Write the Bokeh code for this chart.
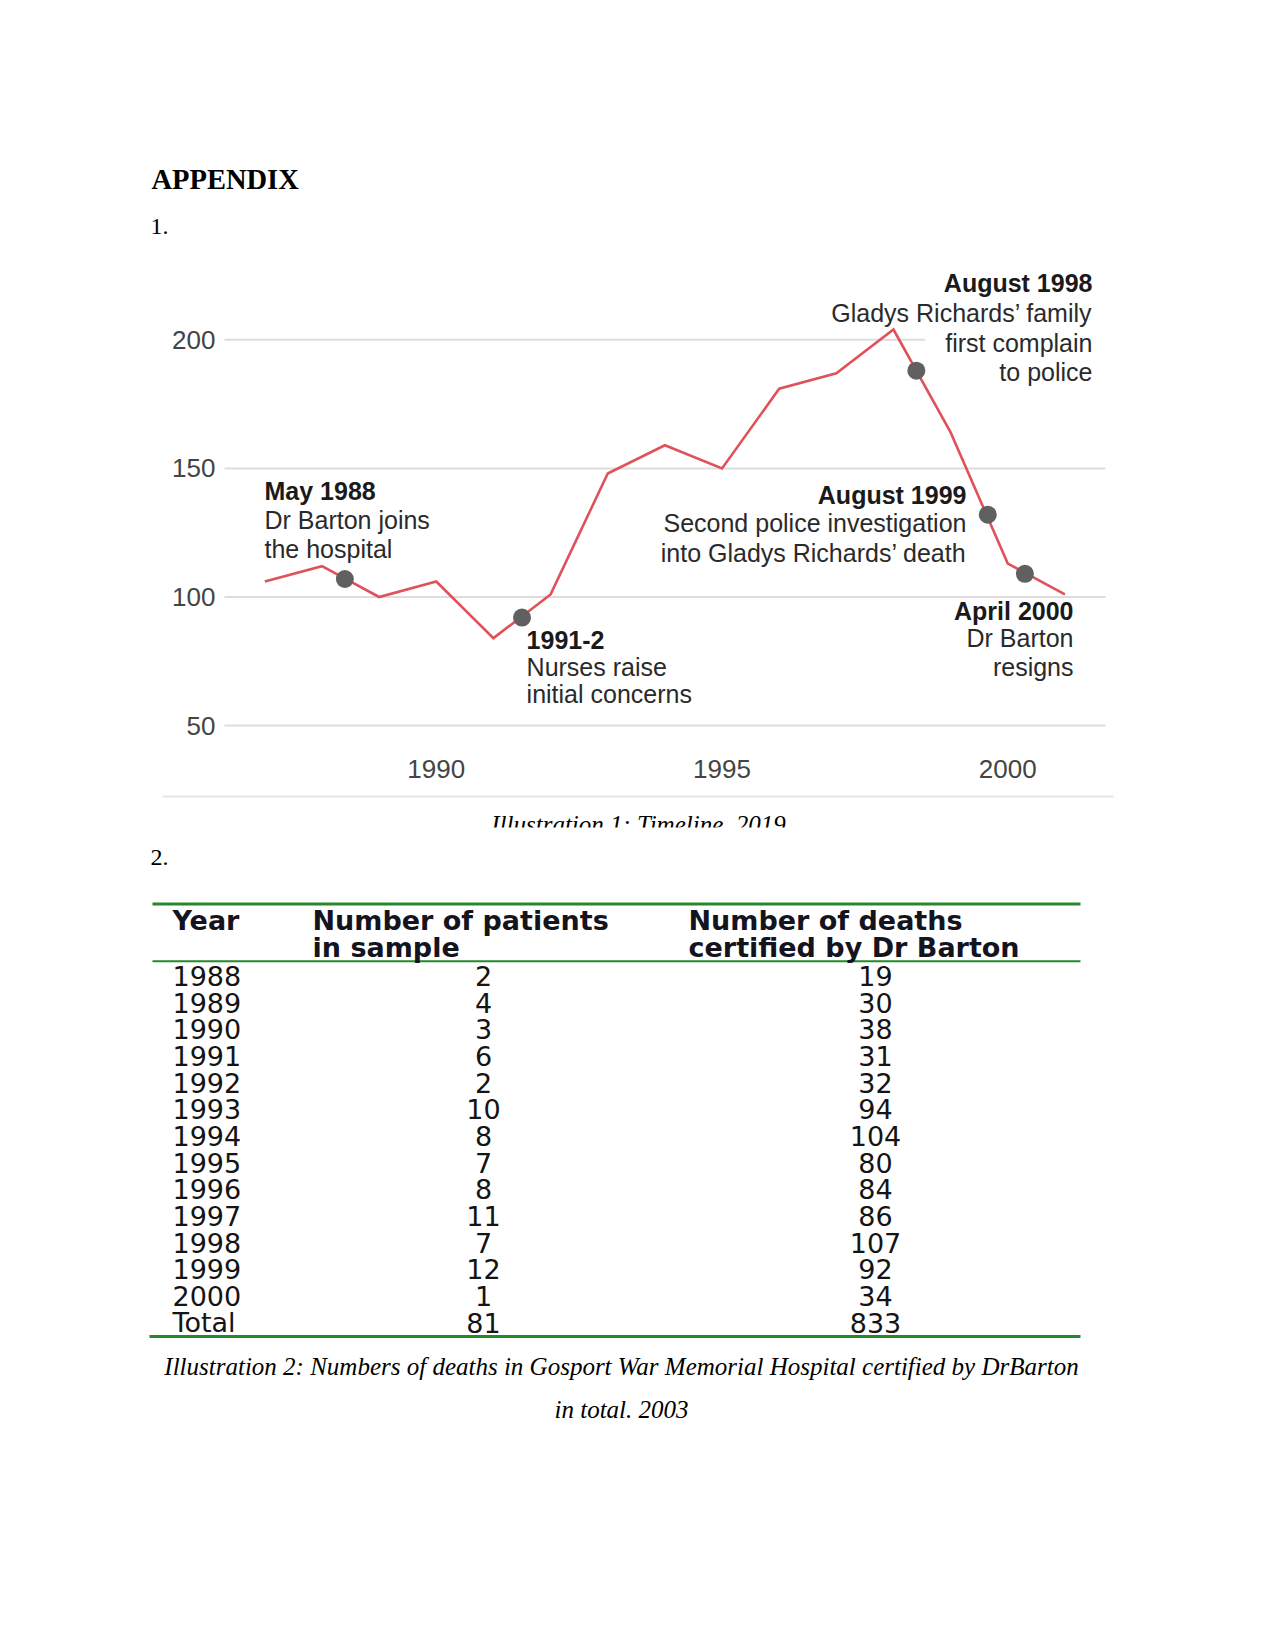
from bokeh.plotting import figure
from bokeh.models import Range1d, FixedTicker, LinearAxis, ColumnDataSource
from bokeh.core.properties import value
from bokeh.embed import file_html
from bokeh.resources import INLINE

# ---------------- data ----------------
line_years = [1987, 1988, 1989, 1990, 1991, 1992, 1993, 1994, 1995, 1996, 1997, 1998, 1999, 2000, 2001]
line_values = [106, 112, 100, 106, 84, 101, 148, 159, 150, 181, 187, 204, 164, 113, 101]

event_years = [1988.4, 1991.5, 1998.4, 1999.65, 2000.3]
event_values = [107, 92, 188, 132, 109]

y_ticks = [50, 100, 150, 200]
x_ticks = [1990, 1995, 2000]

table_header_year = "Year"
table_header_patients = ["Number of patients", "in sample"]
table_header_deaths = ["Number of deaths", "certified by Dr Barton"]
table_years = ["1988", "1989", "1990", "1991", "1992", "1993", "1994", "1995",
               "1996", "1997", "1998", "1999", "2000", "Total"]
table_patients = [2, 4, 3, 6, 2, 10, 8, 7, 8, 11, 7, 12, 1, 81]
table_deaths = [19, 30, 38, 31, 32, 94, 104, 80, 84, 86, 107, 92, 34, 833]

caption1 = "Illustration 1: Timeline, 2019"
caption2 = ["Illustration 2: Numbers of deaths in Gosport War Memorial Hospital certified by DrBarton",
            "in total. 2003"]

# annotations: (bold title, lines, x, [y per line], align)
annotations = [
    ("May 1988", ["Dr Barton joins", "the hospital"], 1986.994, [141.4, 130.1, 118.85], "left"),
    ("1991-2", ["Nurses raise", "initial concerns"], 1991.58, [83.1, 72.6, 62.1], "left"),
    ("August 1998", ["Gladys Richards\u2019 family", "first complain", "to police"], 2001.482,
     [221.9, 210.6, 198.95, 187.3], "right"),
    ("August 1999", ["Second police investigation", "into Gladys Richards\u2019 death"], 1999.277,
     [139.5, 128.6, 116.95], "right"),
    ("April 2000", ["Dr Barton", "resigns"], 2001.15, [94.75, 83.9, 72.6], "right"),
]

# chart plotting area (in data units)
chart_x0, chart_x1 = 1986.294, 2001.71
chart_ybottom = 42.26

W, H = 1259, 1500
SERIF = value("Liberation Serif")
SANS = value("Liberation Sans")
TABLE = value("DejaVu Sans")

# one page-sized figure; page layout in pixels, chart in its own ranges
p = figure(width=W, height=H, x_range=Range1d(0, W), y_range=Range1d(H, 0),
           output_backend="svg", toolbar_location=None,
           x_axis_location=None, y_axis_location=None,
           min_border=0, min_border_left=0, min_border_right=0,
           min_border_top=0, min_border_bottom=0)
p.grid.visible = False
p.outline_line_color = None
p.background_fill_color = "white"
p.border_fill_color = "white"

# chart ranges mapped over the whole page
p.extra_x_ranges = {"cx": Range1d(1982.3745, 2004.4045)}
p.extra_y_ranges = {"cy": Range1d(-251.28, 331.92)}
C = dict(x_range_name="cx", y_range_name="cy")

# ---------------- header ----------------
p.text(x=[151], y=[179], text=["APPENDIX"], text_font=SERIF, text_font_style="bold",
       text_font_size="28.5px", text_color="#000000", text_baseline="middle", text_align="left")
p.text(x=[150], y=[226], text=["1."], text_font=SERIF, text_font_size="24px",
       text_color="#000000", text_baseline="middle", text_align="left")

# ---------------- chart ----------------
# horizontal grid lines at the tick values
p.segment(x0=[chart_x0] * len(y_ticks), y0=y_ticks, x1=[chart_x1] * len(y_ticks), y1=y_ticks,
          line_color="#dddddd", line_width=2, **C)

yax = LinearAxis(ticker=FixedTicker(ticks=y_ticks), fixed_location=chart_x0, **C)
xax = LinearAxis(ticker=FixedTicker(ticks=x_ticks), fixed_location=chart_ybottom, **C)
for ax in (xax, yax):
    ax.axis_line_color = None
    ax.major_tick_line_color = None
    ax.minor_tick_line_color = None
    ax.major_tick_out = 0
    ax.major_tick_in = 0
    ax.major_label_text_font = "Liberation Sans"
    ax.major_label_text_font_size = "26px"
    ax.major_label_text_color = "#444444"
yax.major_label_standoff = 9
xax.major_label_standoff = 14
p.add_layout(yax, "left")
p.add_layout(xax, "below")

# annotation text ("first complain" has a white box that masks the grid line)
for title, lines, ax_x, ys, align in annotations:
    for j, line in enumerate(lines):
        if line == "first complain":
            p.text(x=[ax_x], y=[ys[j + 1]], text=[line], text_font=SANS, text_font_size="25px",
                   text_color="#2a2a2a", text_align=align, text_baseline="middle",
                   background_fill_color="white", padding=20, x_offset=20, **C)
for title, lines, ax_x, ys, align in annotations:
    p.text(x=[ax_x], y=[ys[0]], text=[title], text_font=SANS, text_font_style="bold",
           text_font_size="25px", text_color="#1a1a1a", text_align=align, text_baseline="middle", **C)
    others = [l for l in lines if l != "first complain"]
    oys = [ys[j + 1] for j, l in enumerate(lines) if l != "first complain"]
    p.text(x=[ax_x] * len(others), y=oys, text=others, text_font=SANS, text_font_size="25px",
           text_color="#2a2a2a", text_align=align, text_baseline="middle", **C)

src = ColumnDataSource(dict(x=line_years, y=line_values))
p.line("x", "y", source=src, line_color="#e0525a", line_width=2.6, line_join="miter", **C)
p.scatter(x=event_years, y=event_values, size=18, fill_color="#606060", line_color=None, **C)

# chart bottom rule
p.segment(x0=[162], y0=[796], x1=[1113], y1=[796], line_color="#e6e6e6", line_width=2)

# ---------------- caption 1 (cut off in the source page) ----------------
p.text(x=[638], y=[824], text=[caption1], text_font=SERIF, text_font_style="italic",
       text_font_size="25px", text_color="#000000", text_align="center",
       text_baseline="alphabetic")
p.quad(left=[300], right=[980], top=[827], bottom=[846], fill_color="white", line_color=None)

# ---------------- table ----------------
p.text(x=[150], y=[857], text=["2."], text_font=SERIF, text_font_size="24px",
       text_color="#000000", text_baseline="middle", text_align="left")

green = "#23892a"
p.segment(x0=[152], y0=[903.5], x1=[1080], y1=[903.5], line_color=green, line_width=3)
p.segment(x0=[152], y0=[960.7], x1=[1080], y1=[960.7], line_color=green, line_width=2)
p.segment(x0=[149], y0=[1336], x1=[1080], y1=[1336], line_color=green, line_width=3)

hdr_kw = dict(text_font=TABLE, text_font_style="bold", text_font_size="27px",
              text_color="#14141e", text_baseline="middle", text_align="left")
p.text(x=[172], y=[920], text=[table_header_year], **hdr_kw)
p.text(x=[312, 312], y=[920, 947], text=table_header_patients, **hdr_kw)
p.text(x=[688, 688], y=[920, 947], text=table_header_deaths, **hdr_kw)

row0, row_step = 975.5, 26.67
row_y = [row0 + i * row_step for i in range(len(table_years))]
row_kw = dict(text_font=TABLE, text_font_size="27px", text_color="#141414", text_baseline="middle")
p.text(x=[172] * len(table_years), y=row_y, text=table_years, text_align="left", **row_kw)
p.text(x=[483] * len(table_years), y=row_y, text=[str(v) for v in table_patients],
       text_align="center", **row_kw)
p.text(x=[875] * len(table_years), y=row_y, text=[str(v) for v in table_deaths],
       text_align="center", **row_kw)

p.text(x=[621, 621], y=[1366, 1409], text=caption2, text_font=SERIF, text_font_style="italic",
       text_font_size="25px", text_color="#000000", text_align="center", text_baseline="middle")

open("out.html", "w").write(file_html(p, INLINE))
